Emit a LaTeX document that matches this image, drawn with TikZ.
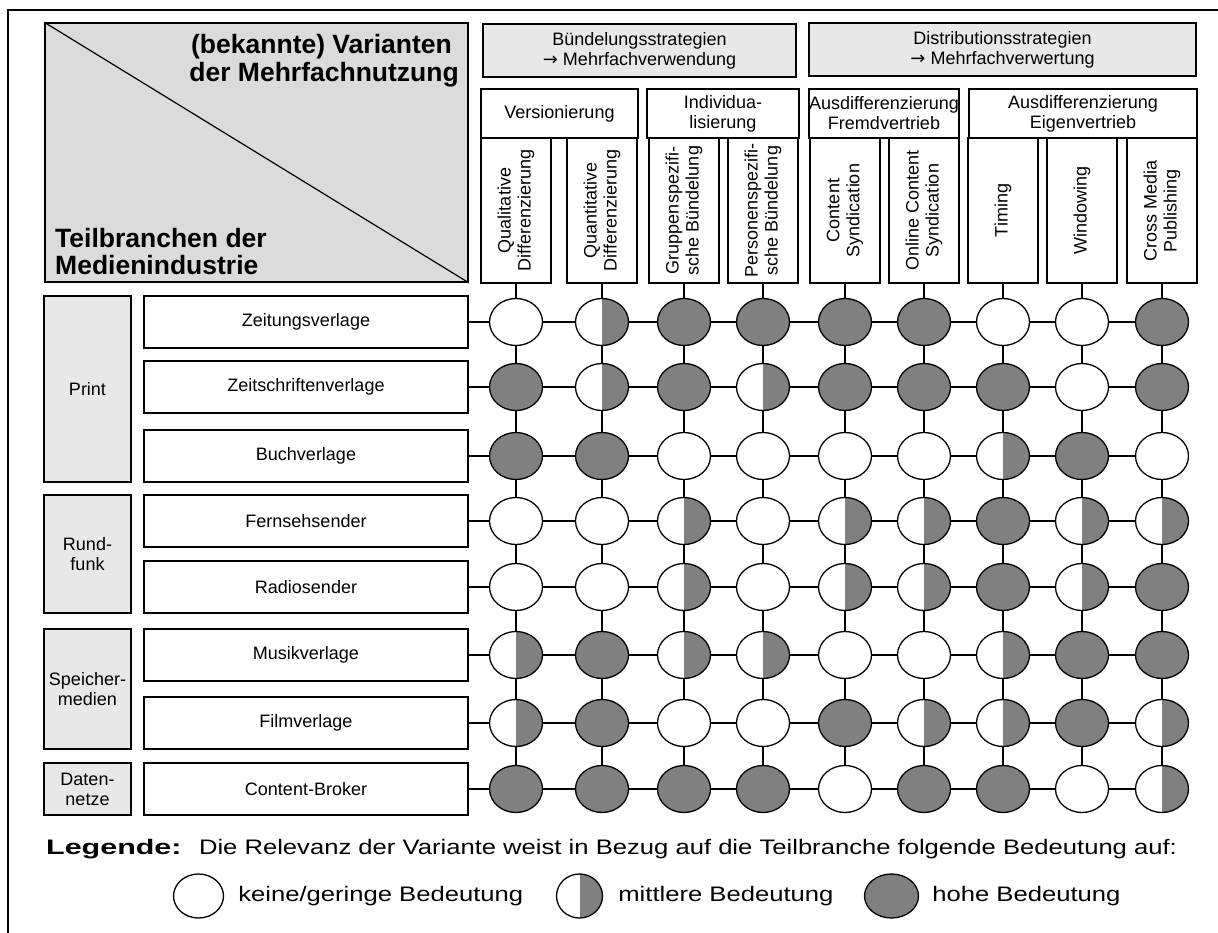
\documentclass[tikz,border=0pt]{standalone}
\usepackage{fontspec}
\setmainfont{Liberation Sans}
\newfontfamily\legfont{Liberation Sans}[FakeStretch=1.22]
\newfontfamily\legbold{Liberation Sans}[FakeStretch=1.45]
\newfontfamily\arrowfont{DejaVu Sans}
\usetikzlibrary{shapes.geometric,positioning}

\begin{document}
\begin{tikzpicture}[x=1pt, y=-1pt,
      every node/.style = {inner sep=0pt, align=center,
        font=\fontsize{18}{20}\selectfont},
      plainbox/.style = {draw, rectangle, line width=1.5pt, fill=white},
      hdrbox/.style = {plainbox, fill=black!9, minimum height=53pt},
      grpbox/.style = {plainbox, minimum height=49pt},
      colbox/.style = {plainbox, rotate=90, minimum width=145pt, minimum height=70pt},
      rowbox/.style = {plainbox, minimum width=324pt, minimum height=52pt},
      secbox/.style = {plainbox, fill=black!9, minimum width=87pt},
      relcircle/.style = {draw, ellipse, line width=1.3pt, fill=white,
        minimum width=53pt, minimum height=47pt},
      rel0/.style = {},
      rel1/.style = {path picture={\fill[black!50] (path picture bounding box.north)
        rectangle (path picture bounding box.south east);}},
      rel2/.style = {fill=black!50},
      conn/.style = {line width=1.6pt},
      legtext/.style = {font=\legfont\fontsize{21}{24}\selectfont}]
  \useasboundingbox (0,0) rectangle (1218,933);
  \draw[line width=1.6pt] (1218,10) -- (8,10) -- (8,933);

  \node[plainbox, fill=black!14, minimum width=423pt, minimum height=259pt] (diag) at (256.5,152.5) {};
  \draw[line width=1.2pt] (diag.north west) -- (diag.south east);
  \node[anchor=east, align=right, font=\fontsize{26.5}{28}\selectfont\bfseries] (varianten)
    at (459,61) {(bekannte) Varianten\hspace*{7pt}\\der Mehrfachnutzung};
  \node[anchor=west, align=left, font=\fontsize{26.5}{27}\selectfont\bfseries] (teilbranchen)
    at (55,252) {Teilbranchen der\\Medienindustrie};

  \node[hdrbox, minimum width=313pt] (buendelung) at (639.5,50.5)
    {Bündelungsstrategien\\{\arrowfont →} Mehrfachverwendung};
  \node[hdrbox, minimum width=387pt] (distribution) at (1002.5,49.5)
    {Distributionsstrategien\\{\arrowfont →} Mehrfachverwertung};

  \node[grpbox, minimum width=157pt] (versionierung) at (559.5,113.5) {Versionierung};
  \node[grpbox, minimum width=152pt] (individualisierung) at (723,113.5) {Individua-\\lisierung};
  \node[grpbox, minimum width=150pt] (fremdvertrieb) at (884,113.5) {Ausdifferenzierung\\Fremdvertrieb};
  \node[grpbox, minimum width=228pt] (eigenvertrieb) at (1083,113.5) {Ausdifferenzierung\\Eigenvertrieb};

  \foreach \x/\txt [count=\i] in {516/{Qualitative\\Differenzierung}, 602/{Quantitative\\Differenzierung},
      684/{Gruppenspezifi-\\sche Bündelung}, 763/{Personenspezifi-\\sche Bündelung},
      845/{Content\\Syndication}, 924/{Online Content\\Syndication}, 1003/Timing, 1082/Windowing,
      1162/{Cross Media\\Publishing}}
    \node[colbox] (col\i) at (\x,210.5) {\txt};

  \foreach \txt/\y/\h [count=\i] in {Print/389/186, {Rund-\\funk}/554/118,
      {Speicher-\\medien}/689/120, {Daten-\\netze}/789/52}
    \node[secbox, minimum height=\h pt] (sec\i) at (87.5,\y) {\txt};

  \foreach \name/\y/\vals [count=\r] in {
      Zeitungsverlage/322/{0,1,2,2,2,2,0,0,2},
      Zeitschriftenverlage/387/{2,1,2,1,2,2,2,0,2},
      Buchverlage/456/{2,2,0,0,0,0,1,2,0},
      Fernsehsender/521/{0,0,1,0,1,1,2,1,1},
      Radiosender/587/{0,0,1,0,1,1,2,1,2},
      Musikverlage/655/{1,2,1,1,0,0,1,2,2},
      Filmverlage/723/{1,2,0,0,2,1,1,2,1},
      Content-Broker/789/{2,2,2,2,0,2,2,0,1}} {
    \node[rowbox] (row\r) at (306,\y) {\name};
    \foreach \v [count=\c] in \vals
      \node[relcircle, rel\v] (c-\r-\c) at (col\c |- row\r) {};
  }

  \foreach \r in {1,...,8} {
    \draw[conn] (row\r) -- (c-\r-1);
    \foreach \c [remember=\c as \p (initially 1)] in {2,...,9}
      \draw[conn] (c-\r-\p) -- (c-\r-\c);
  }
  \foreach \c in {1,...,9} {
    \draw[conn] (col\c) -- (c-1-\c);
    \foreach \r [remember=\r as \p (initially 1)] in {2,...,8}
      \draw[conn] (c-\p-\c) -- (c-\r-\c);
  }

  \node[legtext, anchor=west] (legende) at (46,849.5)
    {{\legbold\bfseries Legende:}\hspace{8pt} Die Relevanz der Variante weist in Bezug auf die Teilbranche folgende Bedeutung auf:};
  \node[relcircle, minimum width=50pt, minimum height=44pt] (leg0) at (198.5,896) {};
  \node[legtext, right=14pt of leg0] (legtext0) {keine/geringe Bedeutung};
  \node[relcircle, rel1, minimum width=46pt, minimum height=44pt] (leg1) at (579.5,896) {};
  \node[legtext, right=15pt of leg1] (legtext1) {mittlere Bedeutung};
  \node[relcircle, rel2, minimum width=54pt, minimum height=44pt] (leg2) at (891.5,896) {};
  \node[legtext, right=13pt of leg2] (legtext2) {hohe Bedeutung};
\end{tikzpicture}
\end{document}
